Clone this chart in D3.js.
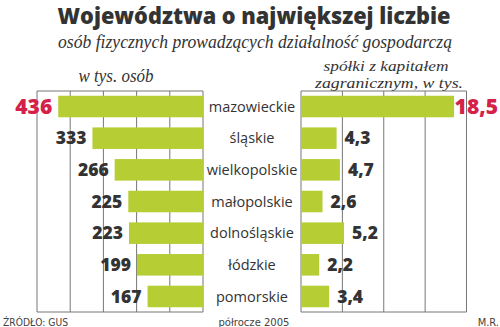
<!DOCTYPE html>
<html><head><meta charset="utf-8">
<script src="https://cdn.jsdelivr.net/npm/d3@7"></script>
<style>
html,body{margin:0;padding:0;background:#fff;}
svg{display:block;}
</style></head>
<body>
<svg id="c" width="500" height="327"></svg>
<script>
const categories = ["mazowieckie","śląskie","wielkopolskie","małopolskie","dolnośląskie","łódzkie","pomorskie"];
const persons = [436,333,266,225,223,199,167];
const companies = [18.5,4.3,4.7,2.6,5.2,2.2,3.4];
const personLabels = ["436","333","266","225","223","199","167"];
const companyLabels = ["18,5","4,3","4,7","2,6","5,2","2,2","3,4"];
const leftTicks = [0,100,200,300,400,500];
const rightTicks = [0,5,10,15,20];

const svg = d3.select("#c");
const green = "#b6cd33", red = "#d5204a", dark = "#333", grid = "#777";

const y = d3.scaleBand().domain(categories).range([91,312]).paddingInner(0.32).paddingOuter(0.15);
const xl = d3.scaleLinear().domain([0,500]).range([203,37]);
const xr = d3.scaleLinear().domain([0,20]).range([301,466.5]);

// Titles
svg.append("text").attr("x",254).attr("y",24).attr("text-anchor","middle")
  .attr("font-family","Open Sans").attr("font-weight",800).attr("font-size",23.5).attr("fill",dark)
  .attr("textLength",393).attr("lengthAdjust","spacingAndGlyphs")
  .text("Województwa o największej liczbie");
svg.append("text").attr("x",255).attr("y",47.5).attr("text-anchor","middle")
  .attr("font-family","Liberation Serif").attr("font-style","italic").attr("font-size",19).attr("fill",dark)
  .attr("textLength",394).attr("lengthAdjust","spacingAndGlyphs")
  .text("osób fizycznych prowadzących działalność gospodarczą");
svg.append("text").attr("x",116).attr("y",82).attr("text-anchor","middle")
  .attr("font-family","Liberation Serif").attr("font-style","italic").attr("font-size",18).attr("fill",dark)
  .attr("textLength",75).attr("lengthAdjust","spacingAndGlyphs")
  .text("w tys. osób");
svg.append("text").attr("x",386).attr("y",71).attr("text-anchor","middle")
  .attr("font-family","Liberation Serif").attr("font-style","italic").attr("font-size",15).attr("fill",dark)
  .attr("textLength",125).attr("lengthAdjust","spacingAndGlyphs")
  .text("spółki z kapitałem");
svg.append("text").attr("x",389).attr("y",88).attr("text-anchor","middle")
  .attr("font-family","Liberation Serif").attr("font-style","italic").attr("font-size",15).attr("fill",dark)
  .attr("textLength",148).attr("lengthAdjust","spacingAndGlyphs")
  .text("zagranicznym, w tys.");

// Left panel grid
const [y0,y1] = y.range();
const gl = svg.append("g");
gl.selectAll("line.v").data(leftTicks).join("line")
  .attr("x1",d=>xl(d)).attr("x2",d=>xl(d)).attr("y1",y0).attr("y2",y1)
  .attr("stroke",grid).attr("stroke-width",1);
gl.append("line").attr("x1",xl(500)).attr("x2",xl(0)).attr("y1",y0).attr("y2",y0).attr("stroke",grid);
gl.append("line").attr("x1",xl(500)).attr("x2",xl(0)).attr("y1",y1).attr("y2",y1).attr("stroke",grid);

const gr = svg.append("g");
gr.selectAll("line.v").data(rightTicks).join("line")
  .attr("x1",d=>xr(d)).attr("x2",d=>xr(d)).attr("y1",y0).attr("y2",y1)
  .attr("stroke",grid).attr("stroke-width",1);
gr.append("line").attr("x1",xr(0)).attr("x2",xr(20)).attr("y1",y0).attr("y2",y0).attr("stroke",grid);
gr.append("line").attr("x1",xr(0)).attr("x2",xr(20)).attr("y1",y1).attr("y2",y1).attr("stroke",grid);

// Bars
svg.append("g").selectAll("rect").data(categories).join("rect")
  .attr("x",(d,i)=>xl(persons[i])).attr("width",(d,i)=>xl(0)-xl(persons[i]))
  .attr("y",d=>y(d)).attr("height",y.bandwidth()).attr("fill",green);
svg.append("g").selectAll("rect").data(categories).join("rect")
  .attr("x",xr(0)).attr("width",(d,i)=>xr(companies[i])-xr(0))
  .attr("y",d=>y(d)).attr("height",y.bandwidth()).attr("fill",green);

// Category labels
svg.append("g").selectAll("text").data(categories).join("text")
  .attr("x",252).attr("y",d=>y(d)+y.bandwidth()/2).attr("dy","0.36em").attr("text-anchor","middle")
  .attr("font-family","Open Sans").attr("font-size",14.5).attr("fill",dark)
  .text(d=>d);

// Value labels
svg.append("g").selectAll("text").data(categories).join("text")
  .attr("x",(d,i)=>xl(persons[i])-6).attr("y",d=>y(d)+y.bandwidth()/2).attr("dy","0.36em")
  .attr("text-anchor","end").attr("font-family","Open Sans").attr("font-weight",800)
  .attr("font-size",(d,i)=>i===0?21:17.5).attr("fill",(d,i)=>i===0?red:dark)
  .text((d,i)=>personLabels[i]);
svg.append("g").selectAll("text").data(categories).join("text")
  .attr("x",(d,i)=>i===0?xr(companies[i])+0.5:xr(companies[i])+8).attr("y",d=>y(d)+y.bandwidth()/2).attr("dy","0.36em")
  .attr("text-anchor","start").attr("font-family","Open Sans").attr("font-weight",800)
  .attr("font-size",(d,i)=>i===0?21:17.5).attr("fill",(d,i)=>i===0?red:dark)
  .text((d,i)=>companyLabels[i]);

// Footer
const foot = {"font-family":"DejaVu Sans Condensed","font-size":11,"fill":"#444"};
function ft(x,anchor,t){const e=svg.append("text").attr("x",x).attr("y",325.5).attr("text-anchor",anchor).text(t);
  for(const k in foot) e.attr(k,foot[k]); return e;}
ft(3,"start","ŹRÓDŁO: GUS").attr("textLength",65).attr("lengthAdjust","spacingAndGlyphs");
ft(254,"middle","półrocze 2005").attr("textLength",71).attr("lengthAdjust","spacingAndGlyphs");
ft(499,"end","M.R.");
</script>
</body></html>
